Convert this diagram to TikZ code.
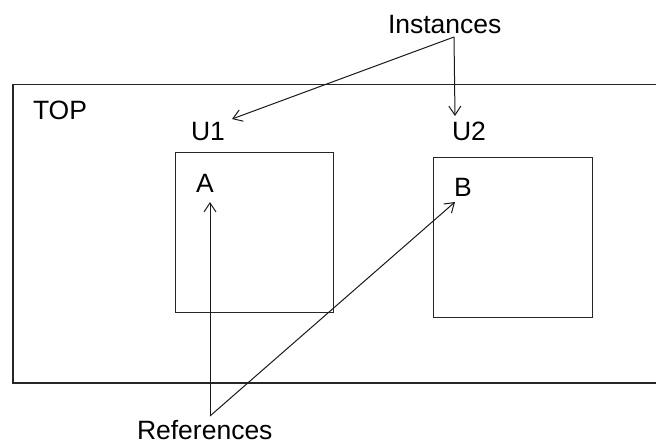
\documentclass[tikz,border=0pt]{standalone}
\usepackage{fontspec}
\setmainfont{Liberation Sans}
\usetikzlibrary{arrows.meta}
\begin{document}
\begin{tikzpicture}[x=1pt,y=-1pt,
  lbl/.style={anchor=base west,inner sep=0pt,outer sep=0pt,font=\fontsize{26.5}{30}\selectfont},
  frame/.style={draw=black!85,line width=1.3pt},
  conn/.style={draw=black!90,line width=1pt,-{Straight Barb[length=9pt,width=12pt,line width=1pt]}}]
\useasboundingbox (0,0) rectangle (656,445);
% outer TOP frame (right side runs past the picture edge)
\draw[frame] (656,84.5) -- (13,84.5) -- (13,383) -- (656,383);
% inner boxes
\node[frame,minimum width=158pt,minimum height=160pt,inner sep=0pt,anchor=north west] (boxU1) at (175,151.5) {};
\node[frame,minimum width=159pt,minimum height=160pt,inner sep=0pt,anchor=north west] (boxU2) at (433,157) {};
% labels
\node[lbl] (top) at (33,119) {TOP};
\node[lbl] (u1) at (191,140) {U1};
\node[lbl] (u2) at (452,140) {U2};
\node[lbl] (a) at (196,192) {A};
\node[lbl] (b) at (454,196) {B};
\node[lbl] (inst) at (388,33) {Instances};
\node[lbl,text depth=0pt] (refs) at (137,439.5) {References};
% connector end points
\coordinate (instsrc) at (454,37);
\coordinate (u1tip) at (232,119);
\coordinate (u2tip) at (455,116);
\coordinate (refsrc) at (210,416);
\coordinate (atip) at (210,202);
\coordinate (btip) at (455,202);
% connectors
\draw[conn] (instsrc) -- (u1tip);
\draw[conn] (instsrc) -- (u2tip);
\draw[conn] (refsrc) -- (atip);
\draw[conn] (refsrc) -- (btip);
\end{tikzpicture}
\end{document}
